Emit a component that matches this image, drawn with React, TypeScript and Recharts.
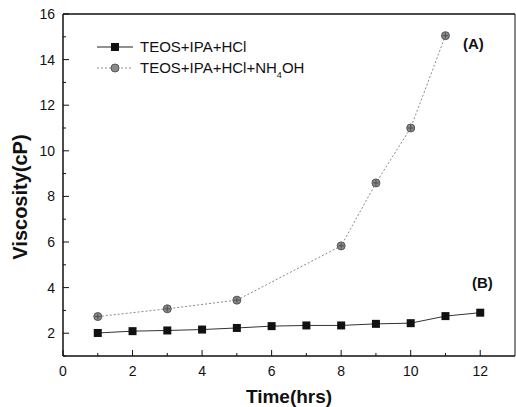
import { LineChart, Line, XAxis, YAxis, ReferenceLine, Customized } from 'recharts';

const timeB = [1, 2, 3, 4, 5, 6, 7, 8, 9, 10, 11, 12];
const viscB = [2.01, 2.09, 2.12, 2.16, 2.23, 2.31, 2.34, 2.34, 2.41, 2.44, 2.75, 2.9];
const timeA = [1, 3, 5, 8, 9, 10, 11];
const viscA = [2.73, 3.07, 3.45, 5.83, 8.59, 11.0, 15.05];
const xTicks = [0, 1, 2, 3, 4, 5, 6, 7, 8, 9, 10, 11, 12];
const yTicks = [1, 2, 3, 4, 5, 6, 7, 8, 9, 10, 11, 12, 13, 14, 15, 16];

const nameB = 'TEOS+IPA+HCl';
const nameA = 'TEOS+IPA+HCl+NH';

const data = timeB.map((t) => {
  const ia = timeA.indexOf(t);
  return { t, b: viscB[timeB.indexOf(t)], a: ia >= 0 ? viscA[ia] : null };
});

const FONT = 'Arial, "Liberation Sans", sans-serif';

function XTick(props: any) {
  const { x, y, payload } = props;
  const major = payload.value % 2 === 0;
  const axisY = y - 8;
  return (
    <g>
      <line x1={x} x2={x} y1={axisY} y2={axisY - (major ? 6 : 3)} stroke="#111" strokeWidth={1} />
      {major && (
        <text x={x} y={axisY + 20} textAnchor="middle" fontSize={14} fontFamily={FONT} fill="#111">
          {payload.value}
        </text>
      )}
    </g>
  );
}

function YTick(props: any) {
  const { x, y, payload } = props;
  const major = payload.value % 2 === 0;
  const axisX = x + 8;
  return (
    <g>
      <line x1={axisX} x2={axisX + (major ? 6 : 3)} y1={y} y2={y} stroke="#111" strokeWidth={1} />
      {major && (
        <text x={axisX - 8} y={y + 5} textAnchor="end" fontSize={14} fontFamily={FONT} fill="#111">
          {payload.value}
        </text>
      )}
    </g>
  );
}

function SquareDot(props: any) {
  const { cx, cy } = props;
  if (cx == null || cy == null) return null;
  return <rect x={cx - 4} y={cy - 4} width={8} height={8} fill="#111" />;
}

function CircleDot(props: any) {
  const { cx, cy, value } = props;
  if (cx == null || cy == null || value == null) return null;
  return (
    <g>
      <circle cx={cx} cy={cy} r={4} fill="#8a8a8a" stroke="#555" strokeWidth={1} />
      <line x1={cx - 3} x2={cx + 3} y1={cy} y2={cy} stroke="#444" strokeWidth={0.8} />
      <line x1={cx} x2={cx} y1={cy - 3} y2={cy + 3} stroke="#444" strokeWidth={0.8} />
    </g>
  );
}

function Extras() {
  return (
    <g fontFamily={FONT}>
      {/* legend */}
      <line x1={97} x2={133} y1={47} y2={47} stroke="#222" strokeWidth={1} />
      <rect x={111} y={43} width={8} height={8} fill="#111" />
      <text x={140} y={52} fontSize={15} fill="#111">{nameB}</text>
      <line x1={97} x2={133} y1={68} y2={68} stroke="#888" strokeWidth={1} strokeDasharray="2 2" />
      <circle cx={115} cy={68} r={4} fill="#8a8a8a" stroke="#555" />
      <text x={140} y={73} fontSize={15} fill="#111">
        {nameA}
        <tspan dy={5} fontSize={9}>4</tspan>
        <tspan dy={-5}>OH</tspan>
      </text>
      <text x={463} y={49} fontSize={15} fontWeight="bold" fill="#111">(A)</text>
      <text x={472} y={288} fontSize={15} fontWeight="bold" fill="#111">(B)</text>
      <text x={289} y={403} fontSize={19} fontWeight="bold" textAnchor="middle" fill="#111">Time(hrs)</text>
      <text
        x={27}
        y={197}
        fontSize={20}
        fontWeight="bold"
        textAnchor="middle"
        transform="rotate(-90 27 197)"
        fill="#111"
      >
        Viscosity(cP)
      </text>
    </g>
  );
}

export default function App() {
  return (
    <div style={{ position: 'fixed', left: 0, top: 0, background: '#fff' }}>
      <LineChart width={516} height={407} data={data} margin={{ top: 14, right: 1, bottom: 0, left: 0 }}>
        <XAxis
          dataKey="t"
          type="number"
          domain={[0, 13]}
          ticks={xTicks}
          interval={0}
          tickSize={0}
          tickMargin={8}
          tick={<XTick />}
          height={51}
          axisLine={{ stroke: '#111', strokeWidth: 1.5 }}
          tickLine={false}
        />
        <YAxis
          type="number"
          domain={[1, 16]}
          ticks={yTicks}
          interval={0}
          tickSize={0}
          tickMargin={8}
          tick={<YTick />}
          width={63}
          axisLine={{ stroke: '#111', strokeWidth: 1.5 }}
          tickLine={false}
        />
        <ReferenceLine y={16} stroke="#111" strokeWidth={1.5} />
        <ReferenceLine x={13} stroke="#111" strokeWidth={1} />
        <Line
          dataKey="a"
          stroke="#8a8a8a"
          strokeWidth={1}
          strokeDasharray="2 2"
          connectNulls
          dot={<CircleDot />}
          activeDot={false}
          isAnimationActive={false}
        />
        <Line
          dataKey="b"
          stroke="#333"
          strokeWidth={1}
          dot={<SquareDot />}
          activeDot={false}
          isAnimationActive={false}
        />
        <Customized component={Extras} />
      </LineChart>
    </div>
  );
}
